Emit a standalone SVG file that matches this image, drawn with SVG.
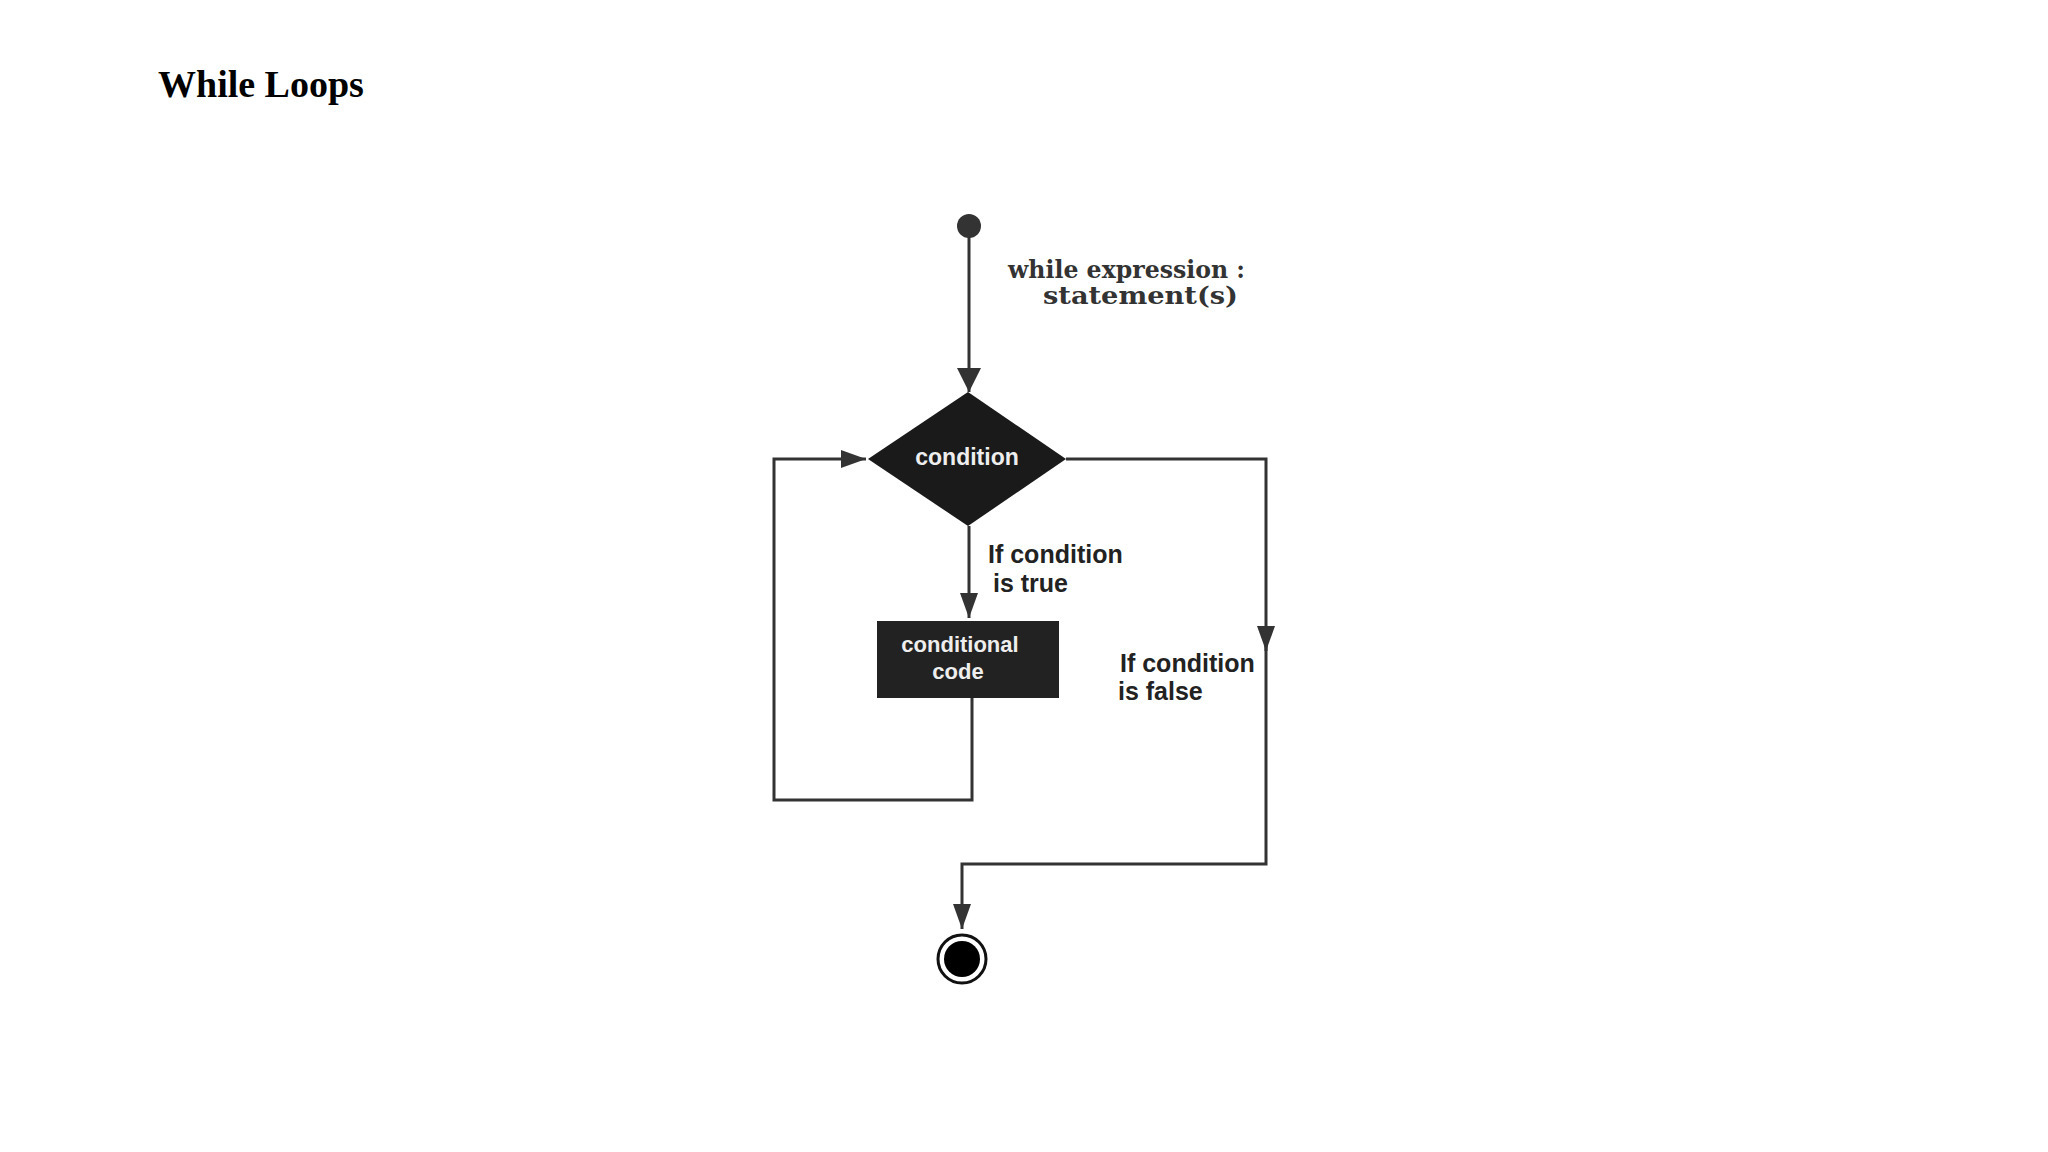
<svg xmlns="http://www.w3.org/2000/svg" width="2048" height="1152" viewBox="0 0 2048 1152">
  <style>
    .title { font-family: "Liberation Serif", "Times New Roman", serif; font-weight: bold; font-size: 38px; fill: #000; }
    .code { font-family: "DejaVu Serif", "Liberation Serif", serif; font-weight: bold; font-size: 25px; fill: #333; }
    .inner { font-family: "Liberation Sans", Arial, sans-serif; font-weight: bold; font-size: 23px; fill: #eeeeee; text-anchor: middle; }
    .label { font-family: "Liberation Sans", Arial, sans-serif; font-weight: bold; font-size: 25px; fill: #222; }
    .conn { fill: none; stroke: #333; stroke-width: 3; stroke-linejoin: miter; }
  </style>
  <defs>
    <marker id="arrow" markerUnits="userSpaceOnUse" markerWidth="26" markerHeight="20" refX="25" refY="10" orient="auto">
      <path d="M0,1 L25,10 L0,19 Z" fill="#333"/>
    </marker>
    <marker id="arrowBig" markerUnits="userSpaceOnUse" markerWidth="26" markerHeight="26" refX="24" refY="13" orient="auto">
      <path d="M0,1 L24,13 L0,25 Z" fill="#333"/>
    </marker>
  </defs>
  <rect width="2048" height="1152" fill="#ffffff"/>

  <text class="title" x="158" y="97">While Loops</text>

  <g id="connectors">
    <path class="conn" d="M969,236 L969,392" marker-end="url(#arrowBig)"/>
    <path class="conn" d="M969,526 L969,618" marker-end="url(#arrow)"/>
    <path class="conn" d="M972,698 L972,800 L774,800 L774,459 L866,459" marker-end="url(#arrow)"/>
    <path class="conn" d="M1066,459 L1266,459 L1266,651" marker-end="url(#arrow)"/>
    <path class="conn" d="M1266,640 L1266,864 L962,864 L962,929" marker-end="url(#arrow)"/>
  </g>

  <g id="start">
    <circle cx="969" cy="226" r="12" fill="#333"/>
  </g>

  <g id="code-label">
    <text class="code" x="1008" y="278" textLength="237" lengthAdjust="spacingAndGlyphs">while expression :</text>
    <text class="code" x="1043" y="304" textLength="195" lengthAdjust="spacingAndGlyphs">statement(s)</text>
  </g>

  <g id="condition">
    <polygon points="968,392 1066,459 968,526 868,459" fill="#1a1a1a"/>
    <text class="inner" x="967" y="465">condition</text>
  </g>

  <g id="true-label">
    <text class="label" x="988" y="563">If condition</text>
    <text class="label" x="993" y="592">is true</text>
  </g>

  <g id="conditional-code">
    <rect x="877" y="621" width="182" height="77" fill="#222"/>
    <text class="inner" x="960" y="652" style="font-size:22px">conditional</text>
    <text class="inner" x="958" y="679" style="font-size:22px">code</text>
  </g>

  <g id="false-label">
    <text class="label" x="1120" y="672">If condition</text>
    <text class="label" x="1118" y="700">is false</text>
  </g>

  <g id="end">
    <circle cx="962" cy="959" r="24" fill="#fff" stroke="#111" stroke-width="3"/>
    <circle cx="962" cy="959" r="18" fill="#000"/>
  </g>
</svg>
